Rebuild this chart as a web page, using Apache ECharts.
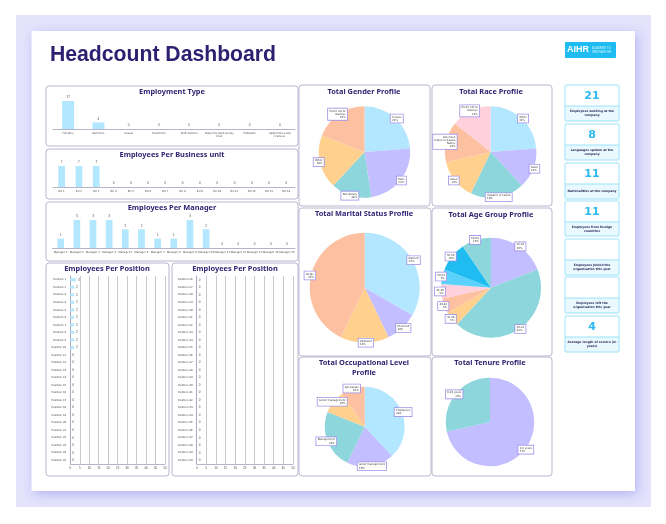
<!DOCTYPE html>
<html>
<head>
<meta charset="utf-8">
<title>Headcount Dashboard</title>
<script src="https://cdn.jsdelivr.net/npm/echarts@6/dist/echarts.min.js"></script>
<style>
html, body { margin: 0; padding: 0; background: #fff; }
#main { width: 666px; height: 524px; }
</style>
</head>
<body>
<div id="main"></div>
<script>
// bar charts
var employmentTypes = ['Full-time', 'Part-time', 'Casual', 'Fixed term', 'Shift workers', 'Daily hire paid weekly\nhour', 'Probation', 'Apprentices and\ntrainees'];
var employmentValues = [17, 4, 0, 0, 0, 0, 0, 0];
var businessUnits = ['BU 1', 'BU 2', 'BU 3', 'BU 4', 'BU 5', 'BU 6', 'BU 7', 'BU 8', 'BU 9', 'BU 10', 'BU 11', 'BU 12', 'BU 13', 'BU 14'];
var businessValues = [7, 7, 7, 0, 0, 0, 0, 0, 0, 0, 0, 0, 0, 0];
var managers = ['Manager 1', 'Manager 2', 'Manager 3', 'Manager 4', 'Manager 5', 'Manager 6', 'Manager 7', 'Manager 8', 'Manager 9', 'Manager 10', 'Manager 11', 'Manager 12', 'Manager 13', 'Manager 14', 'Manager 15'];
var managerValues = [1, 3, 3, 3, 2, 2, 1, 1, 3, 2, 0, 0, 0, 0, 0];
var positionsA = ['Position 1', 'Position 2', 'Position 3', 'Position 4', 'Position 5', 'Position 6', 'Position 7', 'Position 8', 'Position 9', 'Position 10', 'Position 11', 'Position 12', 'Position 13', 'Position 14', 'Position 15', 'Position 16', 'Position 17', 'Position 18', 'Position 19', 'Position 20', 'Position 21', 'Position 22', 'Position 23', 'Position 24', 'Position 25'];
var positionValuesA = [3, 2, 2, 2, 2, 2, 2, 2, 2, 2, 0, 0, 0, 0, 0, 0, 0, 0, 0, 0, 0, 0, 0, 0, 0];
var positionsB = ['Position 26', 'Position 27', 'Position 28', 'Position 29', 'Position 30', 'Position 31', 'Position 32', 'Position 33', 'Position 34', 'Position 35', 'Position 36', 'Position 37', 'Position 38', 'Position 39', 'Position 40', 'Position 41', 'Position 42', 'Position 43', 'Position 44', 'Position 45', 'Position 46', 'Position 47', 'Position 48', 'Position 49', 'Position 50'];
var positionValuesB = [0, 0, 0, 0, 0, 0, 0, 0, 0, 0, 0, 0, 0, 0, 0, 0, 0, 0, 0, 0, 0, 0, 0, 0, 0];

// pies
var genderNames = ['Female', 'Male', 'Non-binary', 'Other', 'Prefer not to\ndisclose'];
var genderValues = [5, 5, 3, 4, 4];
var raceNames = ['White', 'Black', 'Hispanic or Latino', 'Asian', 'American\nIndian or Alaska\nNative', 'Prefer not to\ndisclose'];
var raceValues = [5, 3, 4, 3, 3, 3];
var maritalNames = ['Married', 'Divorced', 'Widowed', 'Single'];
var maritalValues = [7, 2, 3, 9];
var ageNames = ['25-29', '30-34', '35-39', '40-44', '45-49', '50-54', '55-59', '60-64'];
var ageValues = [4, 9, 1, 1, 1, 1, 2, 2];
var levelNames = ['Employees', 'Junior management', 'Management', 'Senior management', 'Specialists'];
var levelValues = [8, 4, 5, 2, 2];
var tenureNames = ['1-5 years', '6-10 years'];
var tenureValues = [15, 6];

// kpi cards
var kpiValues = ['21', '8', '11', '11', '', '', '4'];
var kpiLabels = ['Employees working at the\ncompany', 'Languages spoken at the\ncompany', 'Nationalities at the company', 'Employees from foreign\ncountries', 'Employees joined the\norganisation this year', 'Employees left the\norganisation this year', 'Average length of service (in\nyears)'];

var colorSky = '#b3e7ff', colorLav = '#c2beff', colorTeal = '#8cd6dc', colorYellow = '#ffd08e', colorPeach = '#fdc0a0', colorPink = '#ffd1dc', colorBlue = '#5bd2fb', colorDeep = '#1fbcf1';
var titleColor = '#2f2573';
var titleFont = 'Noto Sans';

var grid = [], xAxis = [], yAxis = [], series = [], title = [], graphic = [];

function addTitle(text, x, y) {
	title.push({
		text: text, left: x, top: y, textAlign: 'center', textVerticalAlign: 'middle', padding: 0,
		textStyle: { color: titleColor, fontFamily: titleFont, fontWeight: 'bold', fontSize: 7.4, lineHeight: 10 }
	});
}

function addPanel(x, y, w, h) {
	graphic.push({
		type: 'rect', z: 0, shape: { x: x, y: y, width: w, height: h, r: 3 },
		style: { fill: '#fff', stroke: '#b9b7cf', lineWidth: 1 }
	});
}

function addColumns(cats, values, left, right, top, bottom, barWidth, maxVal) {
	var i = grid.length;
	grid.push({ left: left, width: right - left, top: top, height: bottom - top, containLabel: false });
	xAxis.push({
		gridIndex: i, type: 'category', data: cats,
		axisLine: { lineStyle: { color: '#b5b4cc', width: 1 } }, axisTick: { show: false },
		axisLabel: { fontSize: 2.6, lineHeight: 3.2, color: '#444', margin: 3, interval: 0, fontFamily: 'DejaVu Sans' }
	});
	yAxis.push({ gridIndex: i, type: 'value', min: 0, max: maxVal, show: false, splitLine: { show: false } });
	series.push({
		type: 'bar', xAxisIndex: i, yAxisIndex: i, data: values, barWidth: barWidth, silent: true,
		itemStyle: { color: colorSky },
		label: { show: true, position: 'top', distance: 2, fontSize: 3, color: '#444' }
	});
}

function addRows(cats, values, left, right, top, bottom) {
	var i = grid.length;
	grid.push({ left: left, width: right - left, top: top, height: bottom - top, containLabel: false });
	xAxis.push({
		gridIndex: i, type: 'value', min: 0, max: 50, interval: 5,
		axisLine: { show: true, lineStyle: { color: '#b5b4cc', width: 1 } }, axisTick: { show: false },
		splitLine: { show: true, lineStyle: { color: '#c8c8d0', width: 1 } },
		axisLabel: { fontSize: 2.8, color: '#444', margin: 3 }
	});
	yAxis.push({
		gridIndex: i, type: 'category', data: cats, inverse: true,
		axisLine: { show: true, lineStyle: { color: '#a9a7c6', width: 1 } }, axisTick: { show: false },
		axisLabel: { fontSize: 2.7, color: '#444', margin: 4, interval: 0, fontFamily: 'DejaVu Sans' }
	});
	series.push({
		type: 'bar', xAxisIndex: i, yAxisIndex: i, data: values, barWidth: 3, silent: true,
		itemStyle: { color: colorSky },
		label: { show: true, position: 'right', distance: 2, fontSize: 3, color: '#444' }
	});
}

function addPie(names, values, colors, cx, cy, r) {
	var data = [];
	for (var k = 0; k < names.length; k++) {
		data.push({ name: names[k], value: values[k], itemStyle: { color: colors[k] } });
	}
	series.push({
		type: 'pie', center: [cx, cy], radius: r, data: data, silent: true,
		label: {
			show: true, position: 'outside', align: 'center',
			formatter: function (p) { return p.name + '\n' + Math.round(p.percent) + '%'; },
			fontSize: 2.6, lineHeight: 3.2, color: '#333', fontFamily: 'DejaVu Sans',
			backgroundColor: '#fff', borderColor: '#a193e8', borderWidth: 0.8, padding: [0.8, 1.4]
		},
		labelLine: { show: false, length: 0, length2: 0 },
		labelLayout: function (p) {
			// pull the box back so it sits across the rim
			var s = p.align === 'left' ? -1 : 1;
			return { dx: s * (p.labelRect.width / 2 + 3), hideOverlap: false };
		}
	});
}

// page
graphic.push({
	type: 'rect', z: 0, shape: { x: 16, y: 15, width: 635, height: 492 },
	style: { fill: '#e3e3fc' }
});
graphic.push({
	type: 'rect', z: 0, shape: { x: 31.5, y: 31, width: 603.5, height: 460 },
	style: { fill: '#fff', shadowBlur: 10, shadowColor: 'rgba(110,110,230,0.4)', shadowOffsetX: 2, shadowOffsetY: 3 }
});

title.push({
	text: 'Headcount Dashboard', left: 50, top: 55, textVerticalAlign: 'middle', padding: 0,
	textStyle: { color: '#2b2170', fontFamily: 'Liberation Sans', fontWeight: 'bold', fontSize: 21.2 }
});

// logo
graphic.push({ type: 'rect', z: 1, shape: { x: 565, y: 42, width: 51, height: 16, r: 1 }, style: { fill: '#1fbcf1' } });
graphic.push({ type: 'text', z: 2, style: { x: 567, y: 50, text: 'AIHR', fill: '#fff', font: 'bold 9px "Liberation Sans"', verticalAlign: 'middle' } });
graphic.push({ type: 'text', z: 2, style: { x: 592, y: 50, text: 'ACADEMY TO\nINNOVATE HR', fill: '#d5f3ff', font: '2.9px "Liberation Sans"', lineHeight: 4, verticalAlign: 'middle' } });

// panels
addPanel(46, 86, 252, 60);
addPanel(46, 149, 252, 50);
addPanel(46, 202, 252, 59);
addPanel(46, 263, 123, 213);
addPanel(172, 263, 126, 213);
addPanel(299, 85, 131, 121);
addPanel(432, 85, 120, 121);
addPanel(299, 208, 132, 148);
addPanel(432, 208, 120, 148);
addPanel(299, 357, 132, 119);
addPanel(432, 357, 120, 119);

addTitle('Employment Type', 172, 92);
addTitle('Employees Per Business unit', 172, 155);
addTitle('Employees Per Manager', 172, 208);
addTitle('Employees Per Position', 107, 269);
addTitle('Employees Per Position', 235, 269);
addTitle('Total Gender Profile', 364, 92);
addTitle('Total Race Profile', 491, 92);
addTitle('Total Marital Status Profile', 364, 214);
addTitle('Total Age Group Profile', 491, 215);
addTitle('Total Occupational Level\nProfile', 364, 368);
addTitle('Total Tenure Profile', 490, 363);

addColumns(employmentTypes, employmentValues, 53, 295, 101, 129, 12, 17);
addColumns(businessUnits, businessValues, 53, 295, 166, 187, 6.7, 7);
addColumns(managers, managerValues, 52.6, 295, 220, 248, 6.7, 3);
addRows(positionsA, positionValuesA, 70.3, 165, 276, 464);
addRows(positionsB, positionValuesB, 196.7, 293, 276, 464);

addPie(genderNames, genderValues, [colorSky, colorLav, colorTeal, colorYellow, colorPeach], 364.5, 152, 45.7);
addPie(raceNames, raceValues, [colorSky, colorLav, colorTeal, colorYellow, colorPeach, colorPink], 490.7, 152, 45.7);
addPie(maritalNames, maritalValues, [colorSky, colorLav, colorYellow, colorPeach], 364.7, 287.7, 55);
addPie(ageNames, ageValues, [colorLav, colorTeal, colorYellow, colorPeach, colorPink, colorBlue, colorDeep, colorTeal], 491, 287.7, 50);
addPie(levelNames, levelValues, [colorSky, colorLav, colorTeal, colorYellow, colorPeach], 364.7, 426.7, 40);
addPie(tenureNames, tenureValues, [colorLav, colorTeal], 490, 422, 44.3);

// kpi cards
var kpiTops = [85, 124, 163, 201, 239, 277, 316];
var kpiHeights = [36, 36, 36, 35, 36, 36, 36];
for (var n = 0; n < kpiTops.length; n++) {
	var ky = kpiTops[n], kh = kpiHeights[n];
	graphic.push({ type: 'rect', z: 1, shape: { x: 565, y: ky + 21, width: 54, height: kh - 21 }, style: { fill: '#eaf8ff' } });
	graphic.push({ type: 'rect', z: 2, shape: { x: 565, y: ky, width: 54, height: kh, r: 1 }, style: { fill: 'none', stroke: '#9be2fb', lineWidth: 1 } });
	graphic.push({ type: 'line', z: 2, shape: { x1: 565, y1: ky + 21, x2: 619, y2: ky + 21 }, style: { stroke: '#9be2fb', lineWidth: 1 } });
	graphic.push({ type: 'text', z: 3, style: { x: 592, y: ky + 11, text: kpiValues[n], fill: '#2cb8f0', font: 'bold 11px "DejaVu Sans"', align: 'center', verticalAlign: 'middle' } });
	graphic.push({ type: 'text', z: 3, style: { x: 592, y: ky + 28.5, text: kpiLabels[n], fill: '#2a2a55', font: 'bold 3px "DejaVu Sans"', lineHeight: 4.2, align: 'center', verticalAlign: 'middle' } });
}

var main = echarts.init(document.getElementById('main'));
main.setOption({
	animation: false,
	backgroundColor: '#fff',
	title: title,
	grid: grid,
	xAxis: xAxis,
	yAxis: yAxis,
	series: series,
	graphic: graphic
});
</script>
</body>
</html>
